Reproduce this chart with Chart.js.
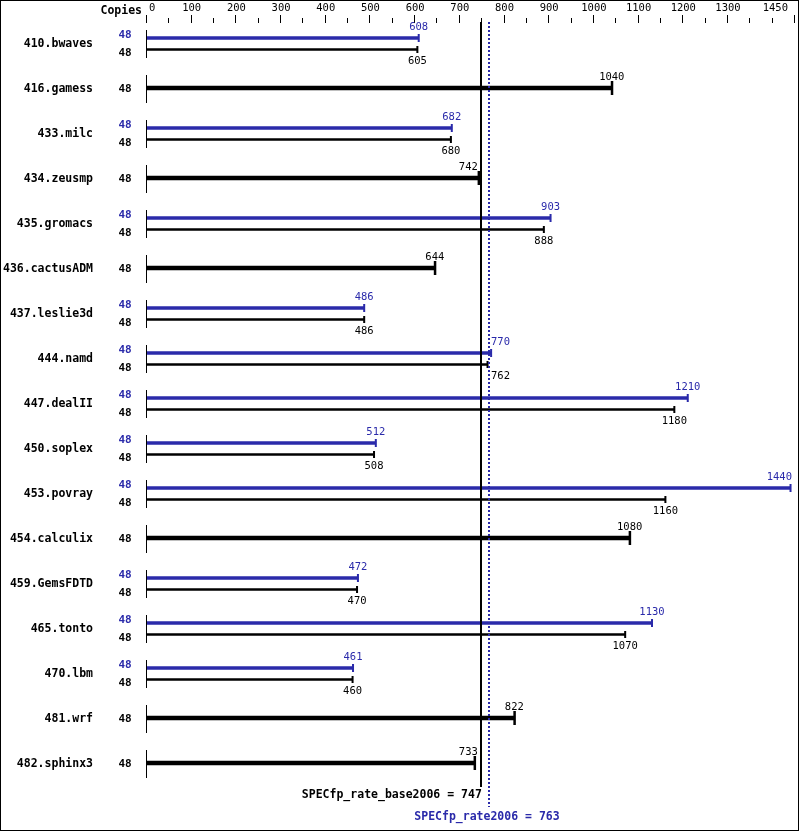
<!DOCTYPE html>
<html>
<head>
<meta charset="utf-8">
<script src="https://cdn.jsdelivr.net/npm/chart.js@4.4.0/dist/chart.umd.min.js"></script>
<style>
  html, body { margin: 0; padding: 0; background: #fff; }
</style>
</head>
<body>
<canvas id="specChart" width="799" height="831"></canvas>
<script>
const benchmarks = [
  "410.bwaves", "416.gamess", "433.milc", "434.zeusmp", "435.gromacs",
  "436.cactusADM", "437.leslie3d", "444.namd", "447.dealII", "450.soplex",
  "453.povray", "454.calculix", "459.GemsFDTD", "465.tonto", "470.lbm",
  "481.wrf", "482.sphinx3"
];
const copies = [48, 48, 48, 48, 48, 48, 48, 48, 48, 48, 48, 48, 48, 48, 48, 48, 48];
// null = no separate peak result (peak == base, one thick bar)
const peakRatio = [608, null, 682, null, 903, null, 486, 770, 1210, 512, 1440, null, 472, 1130, 461, null, null];
const baseRatio = [605, 1040, 680, 742, 888, 644, 486, 762, 1180, 508, 1160, 1080, 470, 1070, 460, 822, 733];
const tickLabels = [0, 100, 200, 300, 400, 500, 600, 700, 800, 900, 1000, 1100, 1200, 1300, 1450];
const baseScore = 747;
const peakScore = 763;

const BLUE = "#2a2aaa";
const BLACK = "#000";
const MONO = '"DejaVu Sans Mono", "Liberation Mono", monospace';

// row offsets (in row units, 1 row = 45px)
const PEAK_OFF = -5 / 45;
const BASE_OFF = 6.5 / 45;

const peakData = [];
const basePairData = [];
const baseSingleData = [];
benchmarks.forEach((name, i) => {
  if (peakRatio[i] != null) {
    peakData.push({ x: peakRatio[i], y: i + PEAK_OFF });
    basePairData.push({ x: baseRatio[i], y: i + BASE_OFF });
  } else {
    baseSingleData.push({ x: baseRatio[i], y: i });
  }
});

const specPlugin = {
  id: "specDecor",
  afterDatasetsDraw(chart) {
    const ctx = chart.ctx;
    const xs = chart.scales.x;
    const ys = chart.scales.y;
    const area = chart.chartArea;
    const x0 = xs.getPixelForValue(0);
    const xBase = xs.getPixelForValue(baseScore);
    const xPeak = xs.getPixelForValue(peakScore);

    ctx.save();
    // border
    ctx.strokeStyle = BLACK;
    ctx.lineWidth = 1;
    ctx.strokeRect(0.5, 0.5, chart.width - 1, chart.height - 1);

    // header
    ctx.fillStyle = BLACK;
    ctx.font = "bold 11.5px " + MONO;
    ctx.textAlign = "right";
    ctx.textBaseline = "middle";
    ctx.fillText("Copies", 142, 11);

    // top axis ticks
    ctx.font = "10.5px " + MONO;
    for (let v = 0; v <= xs.max; v += 50) {
      const px = Math.round(xs.getPixelForValue(v));
      const major = tickLabels.includes(v);
      if (major) ctx.fillRect(px - 1, 15, 1, 8);
      else ctx.fillRect(px - 1, 18, 1, 5);
    }
    tickLabels.forEach((v, k) => {
      const px = xs.getPixelForValue(v);
      if (k === 0) {
        ctx.textAlign = "left";
        ctx.fillText(String(v), px + 2, 8);
      } else if (k === tickLabels.length - 1) {
        ctx.textAlign = "right";
        ctx.fillText(String(v), px - 7, 8);
      } else {
        ctx.textAlign = "center";
        ctx.fillText(String(v), px, 8);
      }
    });

    const valueLabel = (val, xEnd, y, color) => {
      const txt = String(val);
      ctx.font = "10.5px " + MONO;
      const w = ctx.measureText(txt).width;
      let align = "center";
      let lx = xEnd;
      if (xEnd - w / 2 < xPeak + 3 && xEnd + w / 2 > xBase - 2) {
        if (xEnd <= xBase + 1) { align = "right"; lx = xBase - 3; }
        else { align = "left"; lx = xPeak + 3; }
      }
      if (align === "center" && xEnd + w / 2 > area.right - 2) {
        align = "right"; lx = area.right - 3;
      }
      ctx.fillStyle = color;
      ctx.textAlign = align;
      ctx.textBaseline = "middle";
      ctx.fillText(txt, lx, y);
    };

    benchmarks.forEach((name, i) => {
      const yr = ys.getPixelForValue(i);
      ctx.fillStyle = BLACK;
      ctx.font = "bold 11.5px " + MONO;
      ctx.textAlign = "right";
      ctx.textBaseline = "middle";
      ctx.fillText(name, 93, yr + 1);

      // row start line
      ctx.fillRect(Math.round(x0) - 1, yr - 13, 1, 28);

      ctx.font = "bold 11px " + MONO;
      ctx.textAlign = "center";
      if (peakRatio[i] != null) {
        const yp = ys.getPixelForValue(i + PEAK_OFF);
        const yb = ys.getPixelForValue(i + BASE_OFF);
        const xp = xs.getPixelForValue(peakRatio[i]);
        const xb = xs.getPixelForValue(baseRatio[i]);
        ctx.fillStyle = BLUE;
        ctx.fillText(String(copies[i]), 125, yr - 8);
        ctx.fillStyle = BLACK;
        ctx.fillText(String(copies[i]), 125, yr + 10);
        // end caps
        ctx.fillStyle = BLUE;
        ctx.fillRect(xp - 1, yp - 4, 2, 8);
        ctx.fillStyle = BLACK;
        ctx.fillRect(xb - 1, yb - 3.5, 2, 7);
        valueLabel(peakRatio[i], xp, yr - 16, BLUE);
        valueLabel(baseRatio[i], xb, yr + 18, BLACK);
      } else {
        const xb = xs.getPixelForValue(baseRatio[i]);
        ctx.fillStyle = BLACK;
        ctx.fillText(String(copies[i]), 125, yr + 1);
        ctx.fillRect(xb - 1, yr - 7, 2.5, 14);
        valueLabel(baseRatio[i], xb, yr - 11, BLACK);
      }
    });

    // overall score lines
    ctx.fillStyle = BLACK;
    ctx.fillRect(Math.round(xBase) - 1, 22, 2, 765);
    ctx.strokeStyle = BLUE;
    ctx.lineWidth = 2;
    ctx.setLineDash([2, 2]);
    ctx.beginPath();
    ctx.moveTo(Math.round(xPeak) + 1, 22);
    ctx.lineTo(Math.round(xPeak) + 1, 807);
    ctx.stroke();
    ctx.setLineDash([]);

    ctx.font = "bold 11.5px " + MONO;
    ctx.textBaseline = "middle";
    ctx.fillStyle = BLACK;
    ctx.textAlign = "right";
    ctx.fillText("SPECfp_rate_base2006 = " + baseScore, xBase + 1, 795);
    ctx.fillStyle = BLUE;
    ctx.textAlign = "center";
    ctx.fillText("SPECfp_rate2006 = " + peakScore, xPeak - 1, 817);
    ctx.restore();
  }
};

new Chart(document.getElementById("specChart"), {
  type: "bar",
  data: {
    datasets: [
      { label: "peak", data: peakData, backgroundColor: BLUE, barThickness: 3 },
      { label: "base", data: basePairData, backgroundColor: BLACK, barThickness: 2 },
      { label: "base=peak", data: baseSingleData, backgroundColor: BLACK, barThickness: 4 },
    ],
  },
  options: {
    indexAxis: "y",
    responsive: false,
    animation: false,
    grouped: false,
    layout: { padding: { left: 147, right: 4, top: 20.5, bottom: 45.5 } },
    scales: {
      x: { type: "linear", min: 0, max: 1450, display: false },
      y: { type: "linear", min: -0.5, max: 16.5, reverse: true, offset: false, display: false },
    },
    plugins: {
      legend: { display: false },
      tooltip: { enabled: false },
    },
  },
  plugins: [specPlugin],
});
</script>
</body>
</html>
